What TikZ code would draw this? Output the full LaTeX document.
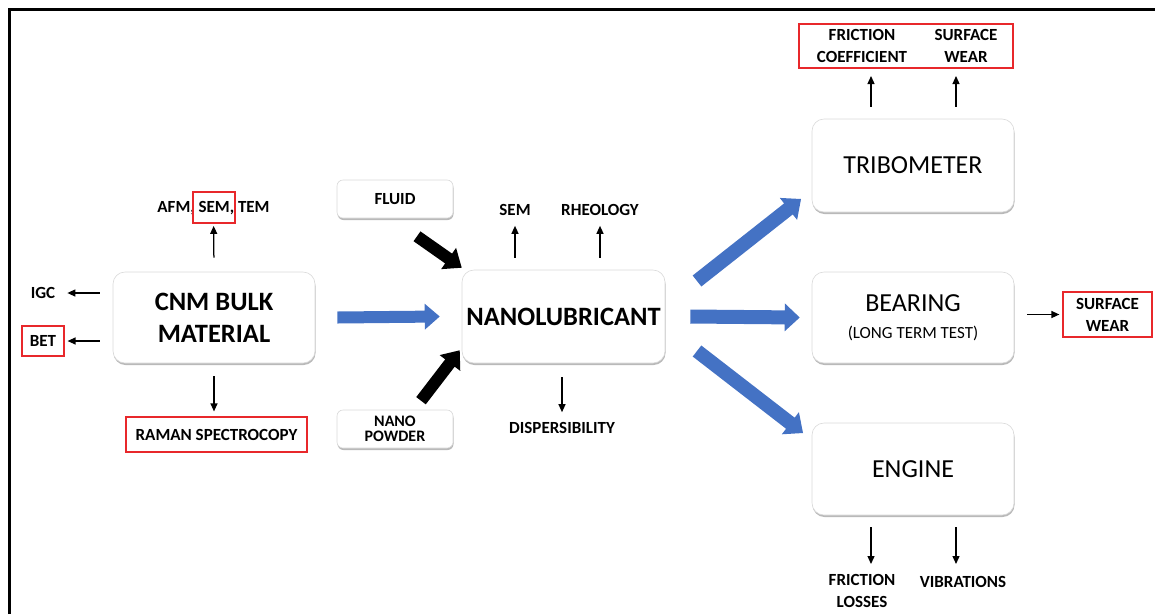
\documentclass[tikz,border=0pt]{standalone}
\usepackage{fontspec}
\setmainfont{Carlito}
\usetikzlibrary{calc,arrows.meta,shadows}
\definecolor{arrblue}{HTML}{4472C4}
\definecolor{boxred}{HTML}{E8282B}
% block arrow: #1 start, #2 tip, #3 half shaft, #4 half head, #5 head length, #6 colour
\newcommand{\blkarrow}[6]{%
  \path ($(#2)!#5!(#1)$) coordinate (bkH);
  \fill[#6] ($(#1)!#3!90:(#2)$) -- ($(bkH)!#3!90:(#2)$) -- ($(bkH)!#4!90:(#2)$)
     -- (#2) -- ($(bkH)!#4!-90:(#2)$) -- ($(bkH)!#3!-90:(#2)$) -- ($(#1)!#3!-90:(#2)$) -- cycle;
}
\begin{document}
\begin{tikzpicture}[x=1pt,y=-1pt,
  box/.style={draw=gray!30, line width=0.6pt, fill=white, rounded corners=12pt,
    drop shadow={shadow xshift=0.5pt, shadow yshift=-2pt, opacity=0.5, fill=black!55}},
  sbox/.style={box, rounded corners=6pt},
  redbox/.style={draw=boxred, line width=1.2pt, inner sep=0pt},
  lbl/.style={font=\fontsize{17}{22}\selectfont\bfseries, align=center, inner sep=2pt},
  big/.style={font=\fontsize{26.5}{32}\selectfont\bfseries, align=center},
  reg/.style={font=\fontsize{26}{30}\selectfont, align=center},
  thinarr/.style={line width=1.25pt, -{Triangle[length=8pt,width=7pt]}},
]
\useasboundingbox (0,0) rectangle (1155,614);
\draw[line width=2.5pt] (9.5,614) -- (9.5,9.5) -- (1155,9.5);

% ---------- left part ----------
\node[box, big, minimum width=202pt, minimum height=91pt] (cnm) at (214,317.5) {CNM BULK\\MATERIAL};
\node[lbl] (afm) at (213.5,208) {AFM, SEM, TEM};
\node[redbox, minimum width=42pt, minimum height=31pt] (semred) at (214,207.5) {};
\node[lbl] (igc) at (43,293) {IGC};
\node[redbox, lbl, minimum width=42pt, minimum height=30pt] (bet) at (43,341) {BET};
\node[redbox, lbl, minimum width=181pt, minimum height=35pt] (raman) at (216.5,434.5) {RAMAN SPECTROCOPY};

\draw[thinarr, shorten <=14pt, shorten >=9pt] (cnm.north) -- (afm);
\draw[thinarr, shorten <=13pt, shorten >=10pt] (cnm.west |- igc) -- (igc);
\draw[thinarr, shorten <=13pt, shorten >=3pt] (cnm.west |- bet) -- (bet.east);
\draw[thinarr, shorten <=13pt, shorten >=5pt] (cnm.south) -- (cnm.south |- raman.north);

% ---------- middle part ----------
\node[box, big, minimum width=203pt, minimum height=93pt] (nano) at (563.5,316.5) {NANOLUBRICANT};
\node[sbox, lbl, minimum width=116pt, minimum height=38pt] (fluid) at (395,199) {FLUID};
\node[sbox, lbl, font=\fontsize{16}{15.5}\selectfont\bfseries, minimum width=116pt, minimum height=38pt] (powder) at (395,429) {NANO\\POWDER};
\node[lbl] (sem2) at (515,210) {SEM};
\node[lbl] (rheo) at (600,210) {RHEOLOGY};
\node[lbl] (disp) at (562,428) {DISPERSIBILITY};

\draw[thinarr, shorten <=12pt, shorten >=8pt] (nano.north -| sem2) -- (sem2);
\draw[thinarr, shorten <=12pt, shorten >=8pt] (nano.north -| rheo) -- (rheo);
\draw[thinarr, shorten <=14pt, shorten >=8pt] (nano.south -| disp) -- (disp);

\coordinate (f1) at ($(fluid.south)+(22,18)$);
\coordinate (f2) at ($(nano.north west)+(0,-2)$);
\blkarrow{f1}{f2}{6pt}{13pt}{16pt}{black}
\coordinate (p1) at ($(powder.north)+(26,-9)$);
\coordinate (p2) at ($(nano.south west)+(-2,-13)$);
\blkarrow{p1}{p2}{6pt}{13pt}{16pt}{black}

\coordinate (c1) at ($(cnm.east)+(22,0)$);
\coordinate (c2) at ($(nano.west)+(-22,0)$);
\blkarrow{c1}{c2}{6pt}{13pt}{15pt}{arrblue}

% ---------- right part ----------
\node[box, reg, minimum width=202pt, minimum height=93pt] (tribo) at (913,165.5) {TRIBOMETER};
\node[box, reg, minimum width=202pt, minimum height=91pt] (bearing) at (913,317.5) {BEARING\\[-3pt]{\fontsize{17}{20}\selectfont (LONG TERM TEST)}};
\node[box, reg, minimum width=202pt, minimum height=92pt] (engine) at (913,469) {ENGINE};

\node[redbox, minimum width=214pt, minimum height=44pt] (resbox) at (906,46) {};
\node[lbl] (fric) at (862,46) {FRICTION\\COEFFICIENT};
\node[lbl] (surf) at (966,46) {SURFACE\\WEAR};
\node[redbox, lbl, minimum width=89pt, minimum height=45pt] (bsurf) at (1107.5,314.5) {SURFACE\\WEAR};
\node[lbl] (floss) at (862,591) {FRICTION\\LOSSES};
\node[lbl] (vib) at (963,582) {VIBRATIONS};

\coordinate (t1) at (871,76);
\coordinate (t2) at (956,76);
\draw[thinarr, shorten <=12pt] (tribo.north -| t1) -- (t1);
\draw[thinarr, shorten <=12pt] (tribo.north -| t2) -- (t2);
\draw[thinarr, shorten <=13pt, shorten >=3pt] (bearing.east |- bsurf) -- (bsurf.west);
\coordinate (e1) at (871,564);
\coordinate (e2) at (956,564);
\draw[thinarr, shorten <=12pt] (engine.south -| e1) -- (e1);
\draw[thinarr, shorten <=12pt] (engine.south -| e2) -- (e2);

\coordinate (u1) at (697,281);
\coordinate (u2) at (801,199);
\blkarrow{u1}{u2}{7pt}{14pt}{16pt}{arrblue}
\coordinate (m1) at ($(nano.east)+(25,0)$);
\coordinate (m2) at ($(bearing.west)+(-12,0)$);
\blkarrow{m1}{m2}{7pt}{14pt}{15pt}{arrblue}
\coordinate (l1) at (697,351);
\coordinate (l2) at (803,433);
\blkarrow{l1}{l2}{7pt}{14pt}{16pt}{arrblue}
\end{tikzpicture}
\end{document}
